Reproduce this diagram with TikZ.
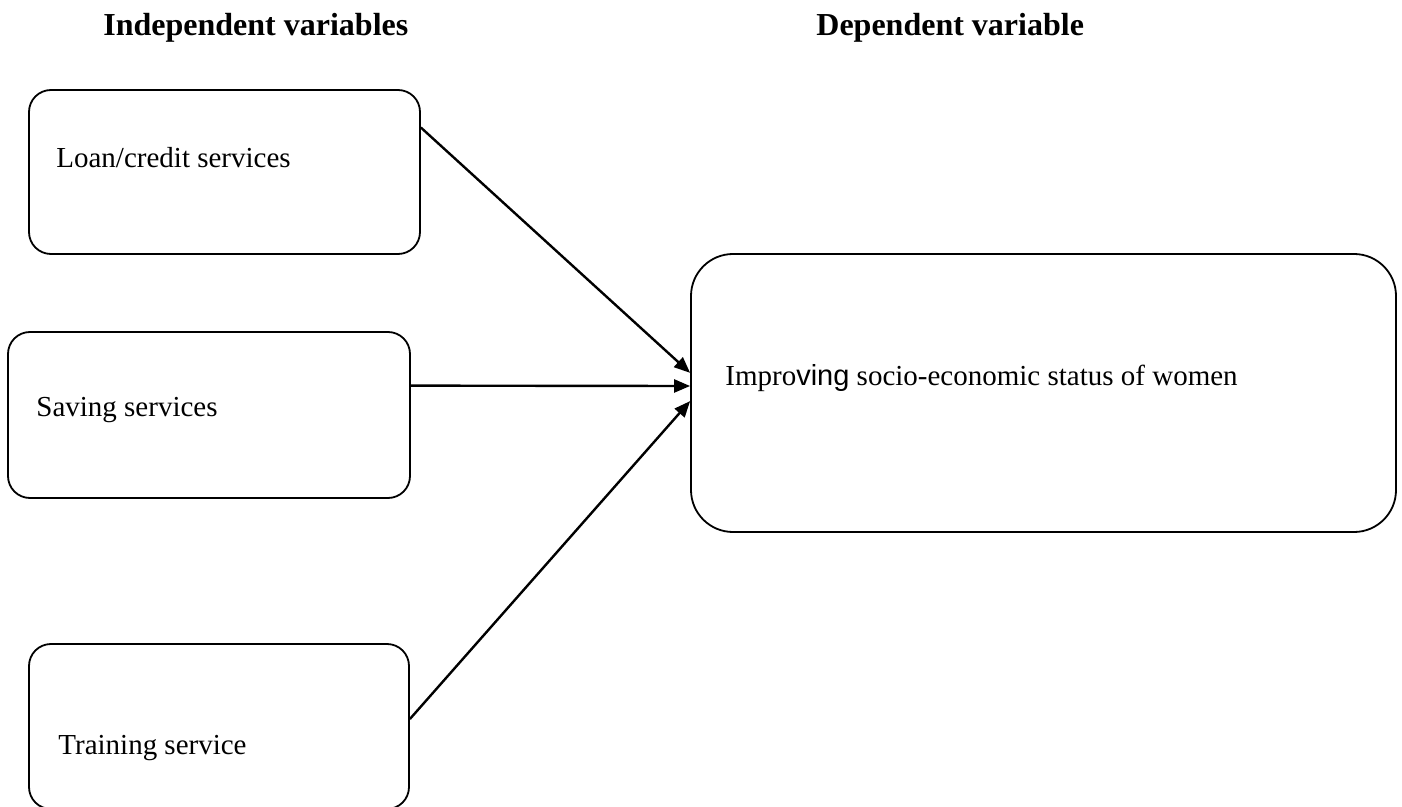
\documentclass[tikz,border=0pt]{standalone}
\usepackage{fontspec}
\setmainfont{Liberation Serif}
\newfontfamily\arialfont{Liberation Sans}
\usetikzlibrary{arrows.meta,calc}
\begin{document}
\begin{tikzpicture}[x=0.5pt,y=-0.5pt,
  box/.style={draw,line width=0.9pt,rounded corners=11pt,inner sep=0pt},
  bigbox/.style={draw,line width=0.9pt,rounded corners=21pt,inner sep=0pt},
  lbl/.style={anchor=base west,inner sep=0pt,font=\fontsize{14.5}{17}\selectfont},
  head/.style={anchor=base west,inner sep=0pt,font=\fontsize{16}{19}\selectfont\bfseries},
  arr/.style={line width=1.2pt,-{Triangle[length=8pt,width=6.5pt]}}]
\useasboundingbox (0,0) rectangle (1402,807);
\node[head] (hind) at (103,36) {Independent variables};
\node[head] (hdep) at (816,36) {Dependent variable};
\node[box,minimum width=195.5pt,minimum height=82pt] (loan) at (224.5,172) {};
\node[box,minimum width=201pt,minimum height=83pt] (saving) at (209,415) {};
\node[box,minimum width=190pt,minimum height=82.5pt] (training) at (219,726.5) {};
\node[bigbox,minimum width=352.5pt,minimum height=139pt] (dep) at (1043.5,393) {};
\node[lbl] (loantxt) at (56,168) {Loan/credit services};
\node[lbl] (savingtxt) at (36,416) {Saving services};
\node[lbl] (trainingtxt) at (58,754) {Training service};
\node[lbl] (deptxt) at (725,386) {Impro{\arialfont ving} socio-economic status of women};
\draw[arr] ($(loan.north east)!0.232!(loan.south east)$) -- ($(dep.north west)!0.428!(dep.south west)$);
\draw[arr] ($(saving.north east)!0.325!(saving.south east)$) -- ($(dep.north west)!0.475!(dep.south west)$);
\draw[arr] ($(training.north east)!0.455!(training.south east)$) -- ($(dep.north west)!0.529!(dep.south west)$);
\end{tikzpicture}
\end{document}
